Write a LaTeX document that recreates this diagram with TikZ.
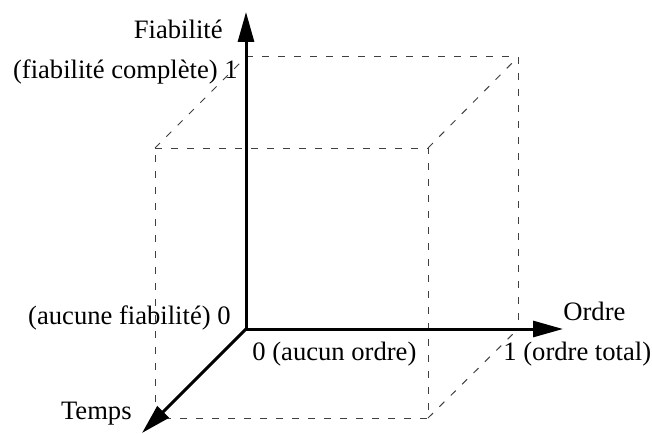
\documentclass[tikz,border=0pt]{standalone}
\usepackage{fontspec}
\setmainfont{Liberation Serif}
\usetikzlibrary{arrows.meta}
\begin{document}
\begin{tikzpicture}[x=0.5pt,y=-0.5pt,
  axis/.style={line width=1.5pt,-{Triangle[width=8pt,length=15pt]}},
  guide/.style={line width=0.5pt,draw=black!75,dash pattern=on 3.5pt off 4.5pt},
  lbl/.style={inner sep=0pt,font=\fontsize{13.3}{16}\selectfont}]
\useasboundingbox (0,0) rectangle (652,433);
% corners
\coordinate (O) at (246,329);
\coordinate (Ytop) at (246,57);
\coordinate (BTR) at (518,57);
\coordinate (BBR) at (518,329);
\coordinate (FTL) at (155,148);
\coordinate (FTR) at (428,148);
\coordinate (FBL) at (155,418);
\coordinate (FBR) at (428,418);
\coordinate (Ytip) at (246,12);
\coordinate (Xtip) at (563,329);
\coordinate (Ztip) at (142,433);
% dashed cube
\draw[guide] (Ytop) -- (BTR) -- (BBR);
\draw[guide] (FTL) -- (FTR) -- (FBR) -- (FBL) -- cycle;
\draw[guide] (FTL) -- (Ytop);
\draw[guide] (FTR) -- (BTR);
\draw[guide] (FBR) -- (BBR);
% axes
\draw[axis] (O) -- (Ytip);
\draw[axis] (O) -- (Xtip);
\draw[axis] (O) -- (Ztip);
% labels
\node[lbl,anchor=east] (fia) at (223,29) {Fiabilité};
\node[lbl,anchor=east] (fc) at (238,72) {(fiabilité complète) 1};
\node[lbl,anchor=east] (af) at (231,318) {(aucune fiabilité) 0};
\node[lbl,anchor=west] (ao) at (252,354) {0 (aucun ordre)};
\node[lbl,anchor=west] (ot) at (503,354) {1 (ordre total)};
\node[lbl,anchor=west] (ord) at (563,311) {Ordre};
\node[lbl,anchor=east] (tps) at (132,414) {Temps};
\end{tikzpicture}
\end{document}
